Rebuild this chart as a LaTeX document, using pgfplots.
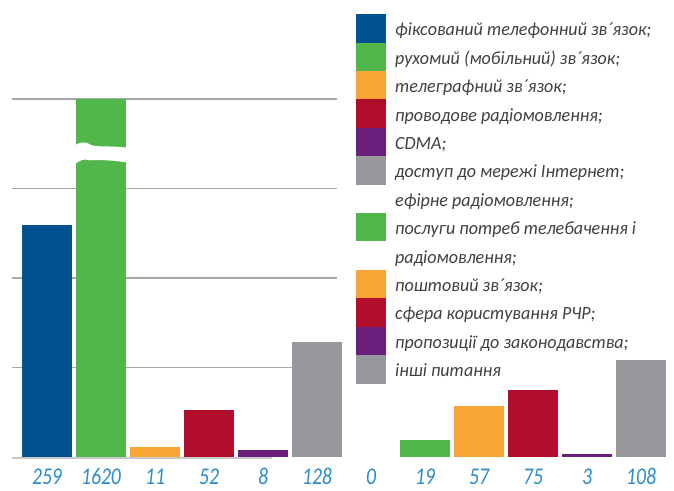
\documentclass[border=0pt]{standalone}
\usepackage{pgfplots}
\pgfplotsset{compat=1.18}
\usepackage{fontspec}
\setmainfont{Carlito}
\newfontfamily\numfont[FakeStretch=0.82]{Carlito}
\newfontfamily\legfont[FakeStretch=0.97]{Carlito}
\definecolor{cblue}{HTML}{005291}
\definecolor{cgreen}{HTML}{52B74B}
\definecolor{corange}{HTML}{F9A535}
\definecolor{cred}{HTML}{B00E2C}
\definecolor{cpurple}{HTML}{6B1F7C}
\definecolor{cgray}{HTML}{97989B}
\definecolor{cgrid}{HTML}{A7A7A9}
\definecolor{cbase}{HTML}{C8C8C8}
\definecolor{clabel}{HTML}{2A8CCC}
\definecolor{ctext}{HTML}{404040}
\begin{document}
\begin{tikzpicture}[x=1pt,y=1pt]
\useasboundingbox (0,0) rectangle (674,490);
\begin{axis}[
  at={(0pt,33pt)}, anchor=south west,
  scale only axis, width=674pt, height=358pt,
  xmin=-0.8704, xmax=11.6111, ymin=0, ymax=400,
  clip=false,
  axis line style={draw=none},
  ymajorticks=false,
  major tick length=0pt,
  xtick={0,1,2,3,4,5,6,7,8,9,10,11},
  xticklabels={259,1620,11,52,8,128,0,19,57,75,3,108},
  xticklabel style={anchor=base, yshift=-27pt, inner sep=0pt, text=clabel,
    font=\numfont\itshape\fontsize{24}{24}\selectfont},
  ybar, bar width=0.93, bar shift=0pt,
]
\draw[cgrid, line width=1.2pt] (axis cs:-0.648,100) -- (axis cs:5.37,100);
\draw[cgrid, line width=1.2pt] (axis cs:-0.648,200) -- (axis cs:5.37,200);
\draw[cgrid, line width=1.2pt] (axis cs:-0.648,300) -- (axis cs:5.37,300);
\draw[cgrid, line width=1.2pt] (axis cs:-0.648,400) -- (axis cs:5.37,400);
\draw[cbase, line width=2pt] (axis cs:-0.648,-1.1) -- (axis cs:4.17,-1.1);
\addplot[fill=cblue, draw=none] coordinates {(0,259)};
\addplot[fill=cgreen, draw=none] coordinates {(1,400)};
\addplot[fill=corange, draw=none] coordinates {(2,11)};
\addplot[fill=cred, draw=none] coordinates {(3,52)};
\addplot[fill=cpurple, draw=none] coordinates {(4,8)};
\addplot[fill=cgray, draw=none] coordinates {(5,128)};
\addplot[fill=cgreen, draw=none] coordinates {(7,19)};
\addplot[fill=corange, draw=none] coordinates {(8,57)};
\addplot[fill=cred, draw=none] coordinates {(9,75)};
\addplot[fill=cpurple, draw=none] coordinates {(10,3)};
\addplot[fill=cgray, draw=none] coordinates {(11,108)};
% break in the 1620 bar
\fill[white] (axis cs:0.52,348.5) .. controls (axis cs:0.62,352) and (axis cs:0.72,353) .. (axis cs:0.82,348.5)
  .. controls (axis cs:0.95,346) and (axis cs:1.2,348) .. (axis cs:1.50,345.5)
  -- (axis cs:1.50,329) .. controls (axis cs:1.25,331) and (axis cs:1.0,332.5) .. (axis cs:0.78,331.5)
  .. controls (axis cs:0.7,333.5) and (axis cs:0.62,332) .. (axis cs:0.52,327.5) -- cycle;
\end{axis}
% legend
\foreach \k/\c in {0/cblue,1/cgreen,2/corange,3/cred,4/cpurple,5/cgray,7/cgreen,9/corange,10/cred,11/cpurple,12/cgray}{
  \fill[\c] (356,{490-14.3-28.4*(\k+1)}) rectangle (386,{490-14.3-28.4*\k});
}
\foreach \k/\t in {0/{фіксований телефонний зв´язок;},1/{рухомий (мобільний) зв´язок;},2/{телеграфний зв´язок;},3/{проводове радіомовлення;},4/{CDMA;},5/{доступ до мережі Інтернет;},6/{ефірне радіомовлення;},7/{послуги потреб телебачення і},8/{радіомовлення;},9/{поштовий зв´язок;},10/{сфера користування РЧР;},11/{пропозиції до законодавства;},12/{інші питання}}{
  \node[anchor=base west, inner sep=0pt, text=ctext, font=\legfont\itshape\fontsize{18.6}{18.6}\selectfont] at (395,{490-36-28.4*\k}) {\t};
}
\end{tikzpicture}
\end{document}
